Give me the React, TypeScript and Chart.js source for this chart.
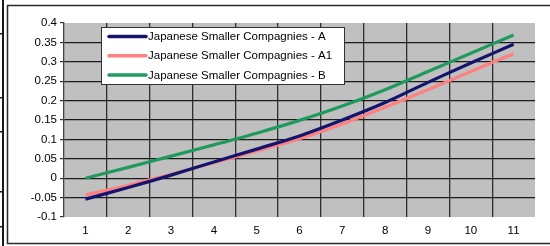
import React, { useEffect, useRef } from "react";
import { Chart, registerables } from "chart.js";

Chart.register(...registerables);

const categories = ["1", "2", "3", "4", "5", "6", "7", "8", "9", "10", "11"];
const seriesA = [-0.054, -0.024, 0.008, 0.042, 0.075, 0.109, 0.15, 0.195, 0.247, 0.297, 0.345];
const seriesA1 = [-0.043, -0.018, 0.01, 0.04, 0.07, 0.102, 0.14, 0.183, 0.228, 0.275, 0.321];
const seriesB = [0.0, 0.028, 0.057, 0.086, 0.116, 0.149, 0.186, 0.228, 0.275, 0.322, 0.369];
const seriesLabels = [
  "Japanese Smaller Compagnies - A",
  "Japanese Smaller Compagnies - A1",
  "Japanese Smaller Compagnies - B",
];
const seriesColors = ["#14146e", "#ff8080", "#1f9a5e"];
const yMin = -0.1;
const yMax = 0.4;
const yStep = 0.05;

const FONT = "'Liberation Sans', Arial, sans-serif";

const framePlugin = {
  id: "frame",
  beforeDraw(chart: any) {
    const { ctx, chartArea, width, height } = chart;
    ctx.save();
    ctx.fillStyle = "#ffffff";
    ctx.fillRect(0, 0, width, height);
    // spreadsheet remnants on the far left
    ctx.fillStyle = "#1a1a1a";
    ctx.fillRect(2, 0, 2, height);
    [33, 97, 131, 191, 226].forEach((y) => ctx.fillRect(0, y, 3, 1.5));
    // chart frame
    ctx.strokeStyle = "#2a2a2a";
    ctx.lineWidth = 1.5;
    ctx.beginPath();
    ctx.moveTo(551, 5.5);
    ctx.lineTo(7.5, 5.5);
    ctx.lineTo(7.5, 243.5);
    ctx.lineTo(551, 243.5);
    ctx.stroke();
    // plot background
    ctx.fillStyle = "#c0c0c0";
    ctx.fillRect(chartArea.left, chartArea.top, chartArea.right - chartArea.left, chartArea.bottom - chartArea.top);
    ctx.restore();
  },
};

const legendPlugin = {
  id: "boxLegend",
  afterDraw(chart: any) {
    const { ctx } = chart;
    const x0 = 101;
    const y0 = 27;
    const w = 243;
    const h = 57;
    ctx.save();
    ctx.fillStyle = "#ffffff";
    ctx.fillRect(x0, y0, w, h);
    ctx.strokeStyle = "#333333";
    ctx.lineWidth = 1;
    ctx.strokeRect(x0 + 0.5, y0 + 0.5, w, h);
    ctx.font = `11.5px ${FONT}`;
    ctx.textBaseline = "middle";
    chart.data.datasets.forEach((ds: any, i: number) => {
      const y = 36.5 + i * 19.3;
      ctx.strokeStyle = ds.borderColor;
      ctx.lineWidth = 3.5;
      ctx.lineCap = "round";
      ctx.beginPath();
      ctx.moveTo(109, y);
      ctx.lineTo(146, y);
      ctx.stroke();
      ctx.fillStyle = "#000000";
      ctx.fillText(ds.label, 148, y + 0.5);
    });
    ctx.restore();
  },
};

export default function App() {
  const ref = useRef<HTMLCanvasElement | null>(null);
  useEffect(() => {
    if (!ref.current) return;
    const datasets = [seriesA, seriesA1, seriesB].map((d, i) => ({
      label: seriesLabels[i],
      data: d,
      borderColor: seriesColors[i],
      backgroundColor: seriesColors[i],
      borderWidth: 3.2,
      pointRadius: 0,
      tension: 0.3,
      fill: false,
    }));
    const chart = new Chart(ref.current, {
      type: "line",
      data: { labels: categories, datasets },
      options: {
        animation: false,
        responsive: false,
        maintainAspectRatio: false,
        layout: { padding: { left: 0, top: 23, right: 15, bottom: 0 } },
        plugins: {
          legend: { display: false },
          tooltip: { enabled: false },
        },
        scales: {
          x: {
            type: "category",
            offset: true,
            border: { display: false },
            grid: {
              offset: true,
              drawTicks: false,
              lineWidth: 1.3,
              color: (c: any) => (c.type === "tick" && c.index > 0 ? "#2e2e2e" : "transparent"),
            },
            ticks: {
              color: "#000",
              padding: 7,
              maxRotation: 0,
              font: { family: FONT, size: 11.5 },
            },
            afterFit: (s: any) => {
              s.height = 29;
            },
          },
          y: {
            min: yMin,
            max: yMax,
            border: { display: true, color: "#444", width: 1.3 },
            grid: {
              drawTicks: true,
              tickLength: 4,
              tickColor: "#333",
              lineWidth: 1.2,
              color: (c: any) => {
                const v = c.tick ? Math.round(c.tick.value * 100) / 100 : null;
                return v === yMin || v === yMax ? "transparent" : "#1a1a1a";
              },
            },
            ticks: {
              stepSize: yStep,
              color: "#000",
              padding: 3,
              font: { family: FONT, size: 11.5 },
              callback: (v: any) => String(Math.round(Number(v) * 100) / 100),
            },
            afterFit: (s: any) => {
              s.width = 64;
            },
          },
        },
      },
      plugins: [framePlugin, legendPlugin],
    });
    return () => chart.destroy();
  }, []);
  return (
    <div style={{ position: "fixed", left: 0, top: 0, width: 550, height: 246 }}>
      <canvas ref={ref} width={550} height={246} style={{ display: "block", width: 550, height: 246 }} />
    </div>
  );
}
